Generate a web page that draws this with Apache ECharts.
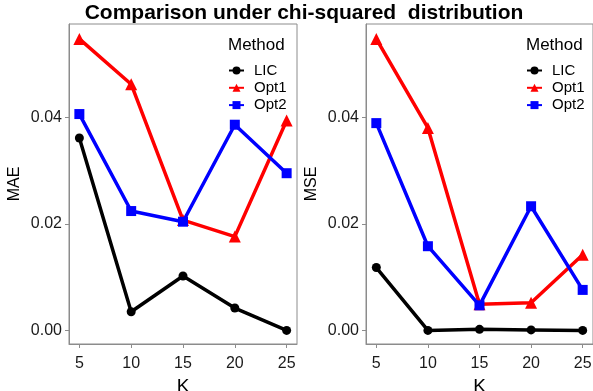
<!DOCTYPE html>
<html>
<head>
<meta charset="utf-8">
<script src="https://cdn.jsdelivr.net/npm/echarts@6/dist/echarts.min.js"></script>
<style>
  html, body { margin: 0; padding: 0; background: #fff; }
  #chart { width: 593px; height: 391px; }
</style>
</head>
<body>
<div id="chart"></div>
<script>
// Number of clusters K and error metrics per method
const ks = [5, 10, 15, 20, 25];
const methods = ['LIC', 'Opt1', 'Opt2'];

const maeLIC  = [0.0361, 0.0035, 0.0102, 0.0042, 0.0000];
const maeOpt1 = [0.0547, 0.0462, 0.0207, 0.0176, 0.0394];
const maeOpt2 = [0.0406, 0.0224, 0.0204, 0.0386, 0.0295];

const mseLIC  = [0.0118, 0.0000, 0.0002, 0.0001, 0.0000];
const mseOpt1 = [0.0547, 0.0380, 0.0049, 0.0052, 0.0142];
const mseOpt2 = [0.0389, 0.0158, 0.0047, 0.0233, 0.0076];

const xTicks = [5, 10, 15, 20, 25];
const yTicks = [0, 0.02, 0.04];

const FONT = 'Liberation Sans, Arial, sans-serif';
const colors = { LIC: '#000000', Opt1: '#ff0000', Opt2: '#0000ff' };
const shapes = { LIC: 'circle', Opt1: 'triangle', Opt2: 'rect' };
const sizes  = { LIC: 9, Opt1: 12, Opt2: 10 };
const frame = '#8c8c8c';

const chart = echarts.init(document.getElementById('chart'), null, { renderer: 'canvas' });

function xAxisFor(gridIndex) {
  return {
    type: 'value', gridIndex, min: 4, max: 26,
    name: 'K', nameLocation: 'middle', nameGap: 29,
    nameTextStyle: { fontFamily: FONT, fontSize: 19, color: '#000' },
    axisLine: { show: true, onZero: false, lineStyle: { color: frame, width: 1 } },
    axisTick: { show: true, length: 4, customValues: xTicks, lineStyle: { color: frame } },
    axisLabel: { customValues: xTicks, margin: 12, fontFamily: FONT, fontSize: 16, color: '#1a1a1a' },
    splitLine: { show: false }
  };
}

function yAxisFor(gridIndex, title) {
  return {
    type: 'value', gridIndex, min: -0.00255, max: 0.0575,
    name: title, nameLocation: 'middle', nameRotate: 90, nameGap: 46,
    nameTextStyle: { fontFamily: FONT, fontSize: 16, color: '#000' },
    axisLine: { show: true, onZero: false, lineStyle: { color: frame, width: 1 } },
    axisTick: { show: true, length: 4, customValues: yTicks, lineStyle: { color: frame } },
    axisLabel: {
      customValues: yTicks, margin: 7, fontFamily: FONT, fontSize: 16, color: '#1a1a1a',
      formatter: v => v.toFixed(2)
    },
    splitLine: { show: false }
  };
}

function seriesFor(name, values, idx) {
  return {
    name, type: 'line', xAxisIndex: idx, yAxisIndex: idx,
    data: ks.map((k, i) => [k, values[i]]),
    symbol: shapes[name], symbolSize: sizes[name], showSymbol: true,
    lineStyle: { color: colors[name], width: 3.5 },
    itemStyle: { color: colors[name] },
    animation: false, clip: true
  };
}

function legendFor(left) {
  return {
    data: methods, orient: 'vertical', left, top: 63, padding: 0,
    itemWidth: 15, itemHeight: 10, itemGap: 2.3,
    textStyle: { fontFamily: FONT, fontSize: 15, color: '#000', padding: [0, 0, 0, 5] },
    selectedMode: false
  };
}

chart.setOption({
  backgroundColor: '#ffffff',
  animation: false,
  title: [
    {
      text: 'Comparison under chi-squared  distribution',
      left: 304, top: 1, textAlign: 'center', padding: [2, 0, 0, 0],
      textStyle: { fontFamily: FONT, fontSize: 21, fontWeight: 'bold', color: '#000' }
    },
    { text: 'Method', left: 228, top: 37, padding: 0,
      textStyle: { fontFamily: FONT, fontSize: 17, fontWeight: 'normal', color: '#000' } },
    { text: 'Method', left: 526, top: 37, padding: 0,
      textStyle: { fontFamily: FONT, fontSize: 17, fontWeight: 'normal', color: '#000' } }
  ],
  legend: [legendFor(228), legendFor(526)],
  grid: [
    { left: 69, top: 24, width: 228, height: 320, outerBoundsMode: 'none', containLabel: false,
      show: true, borderColor: frame, borderWidth: 1, backgroundColor: 'transparent' },
    { left: 366, top: 24, width: 227, height: 320, outerBoundsMode: 'none', containLabel: false,
      show: true, borderColor: frame, borderWidth: 1, backgroundColor: 'transparent' }
  ],
  xAxis: [xAxisFor(0), xAxisFor(1)],
  yAxis: [yAxisFor(0, 'MAE'), yAxisFor(1, 'MSE')],
  series: [
    seriesFor('LIC', maeLIC, 0),
    seriesFor('Opt1', maeOpt1, 0),
    seriesFor('Opt2', maeOpt2, 0),
    seriesFor('LIC', mseLIC, 1),
    seriesFor('Opt1', mseOpt1, 1),
    seriesFor('Opt2', mseOpt2, 1)
  ]
});
</script>
</body>
</html>
